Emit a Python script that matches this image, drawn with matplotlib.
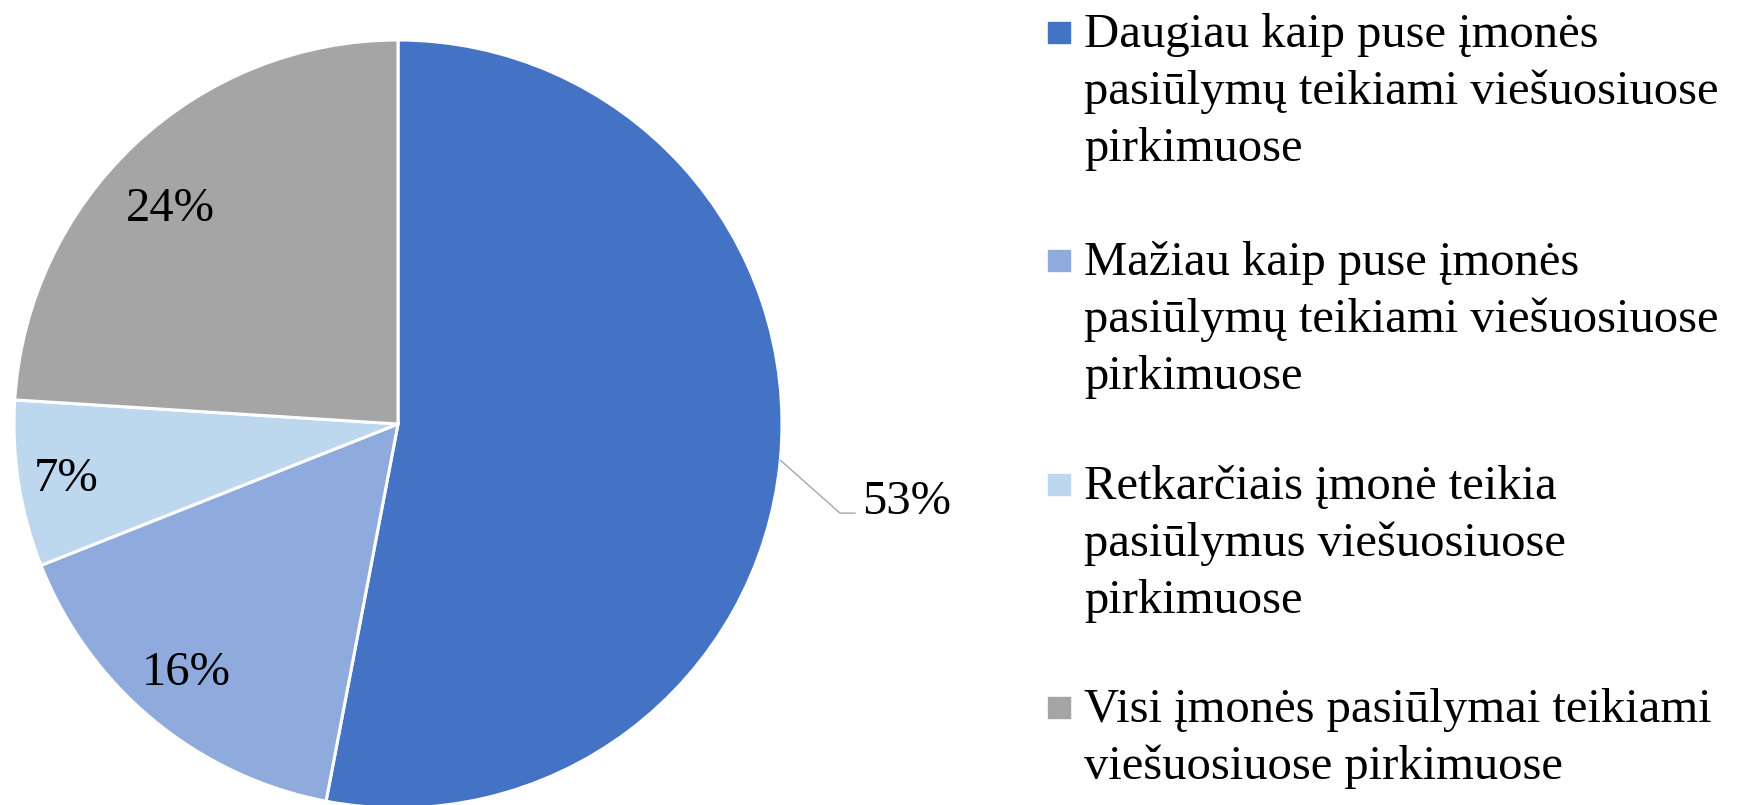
import numpy as np
import matplotlib
matplotlib.use("Agg")
import matplotlib.pyplot as plt
from matplotlib.patches import Rectangle

# Data
labels = [
    "Daugiau kaip puse įmonės\npasiūlymų teikiami viešuosiuose\npirkimuose",
    "Mažiau kaip puse įmonės\npasiūlymų teikiami viešuosiuose\npirkimuose",
    "Retkarčiais įmonė teikia\npasiūlymus viešuosiuose\npirkimuose",
    "Visi įmonės pasiūlymai teikiami\nviešuosiuose pirkimuose",
]
shares = [53, 16, 7, 24]
colors = ["#4472C4", "#8FAADC", "#BDD7EE", "#A5A5A5"]

plt.rcParams['font.family'] = ['Liberation Serif', 'DejaVu Serif']

W, H = 1760, 805
fig = plt.figure(figsize=(W / 100, H / 100), dpi=100)

# pie centre (398, 424) px, radius 384 px
cx, cy, r = 398, 424, 384
ax = fig.add_axes([(cx - r) / W, (H - cy - r) / H, 2 * r / W, 2 * r / H])
wedges, _ = ax.pie(shares, colors=colors, startangle=90, counterclock=False,
                   radius=1, wedgeprops=dict(edgecolor='white', linewidth=2.2))
ax.set_xlim(-1, 1)
ax.set_ylim(-1, 1)
ax.set_aspect('equal')
ax.axis('off')

# inside label placement (distance, angle tweak) like Excel's best fit
place = [None, (0.842, -1.4), (0.875, -0.4), (0.825, 2.8)]

for i, (w, v) in enumerate(zip(wedges, shares)):
    mid = (w.theta1 + w.theta2) / 2
    if i == 0:
        ang = np.deg2rad(mid)
        x0, y0 = np.cos(ang), np.sin(ang)
        ax.plot([x0, 1.151, 1.19], [y0, -0.232, -0.232], color='#A6A6A6',
                lw=1, clip_on=False)
        ax.text(1.208, -0.234, f"{v}%", fontsize=35, ha='left',
                va='baseline', clip_on=False)
    else:
        d, tweak = place[i]
        ang = np.deg2rad(mid + tweak)
        ax.text(d * np.cos(ang), d * np.sin(ang), f"{v}%", fontsize=35,
                ha='center', va='center_baseline')

# legend drawn by hand so the square sits on the first line
baselines = [47, 275, 499, 722]
line_step = 57
for lab, col, yb in zip(labels, colors, baselines):
    fig.add_artist(Rectangle((1048 / W, 1 - (yb - 4) / H), 22 / W, 21 / H,
                             transform=fig.transFigure, color=col))
    for k, line in enumerate(lab.split("\n")):
        fig.text(1084 / W, 1 - (yb + k * line_step) / H, line, fontsize=35,
                 ha='left', va='baseline')

fig.savefig("out.png", dpi=100)
